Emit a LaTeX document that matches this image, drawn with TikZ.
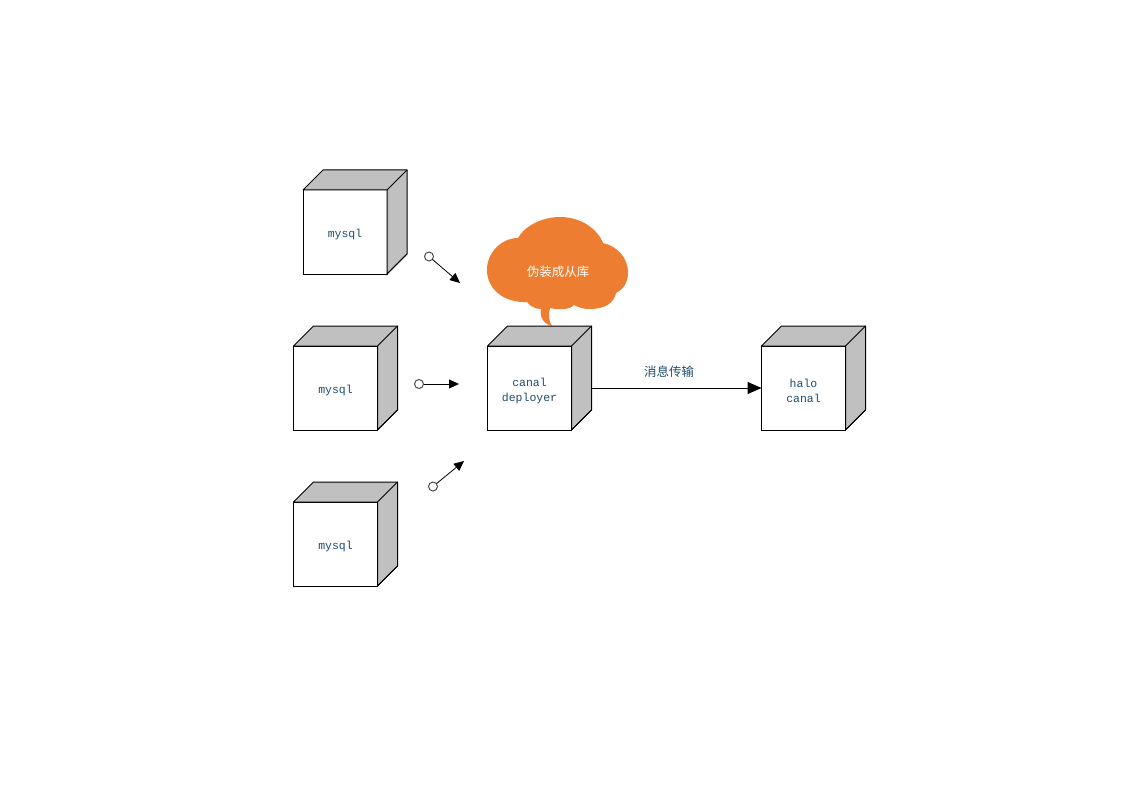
\documentclass[tikz,border=0pt]{standalone}
\usepackage{fontspec}
\setmonofont{Liberation Mono}
\newfontfamily\cjkfont{Noto Sans CJK SC}
\usetikzlibrary{arrows.meta}
\definecolor{labelblue}{HTML}{1F4E6B}
\definecolor{cloudorange}{HTML}{ED7D31}
\definecolor{cubegray}{HTML}{C0C0C0}
\tikzset{
  cubefront/.style={draw, fill=white, minimum size=84pt, inner sep=0pt, outer sep=0pt},
  cubetext/.style={align=center, inner sep=0pt, text=labelblue, font=\ttfamily\fontsize{11.5}{15}\selectfont},
  cubeside/.style={draw, fill=cubegray, line join=round},
  ball/.style={draw=black!70, fill=white, circle, minimum size=9pt, inner sep=0pt, outer sep=0pt},
  syncarrow/.style={-{Triangle[length=10pt,width=9pt]}, line width=0.8pt},
  busarrow/.style={-{Triangle[length=14pt,width=12pt]}, line width=1pt},
  msglabel/.style={text=labelblue, font=\cjkfont\fontsize{12.5}{15}\selectfont, inner sep=0pt},
  cloudlabel/.style={text=white, font=\cjkfont\fontsize{12.5}{15}\selectfont, inner sep=0pt}
}
% name, centre of the front face, text
\newcommand{\cubenode}[3]{
  \node[cubefront] (#1) at (#2) {};
  \draw[cubeside] (#1.north west) -- ++(20,-20) -- ++(84,0) -- ++(0,84)
    -- ++(-20,20) -- (#1.north east) -- cycle;
  \draw (#1.north east) -- ++(20,-20);
  \draw (#1.south east) -- ++(20,-20);
  \node[cubetext] (#1text) at ([yshift=-3pt]#1.center) {#3};
}
\begin{document}
\begin{tikzpicture}[x=1pt, y=-1pt, line width=1pt]
  \useasboundingbox (0,0) rectangle (1123,794);
  % cloud first, the cube sits on its tail
  \fill[cloudorange] (518,238) .. controls (526,224) and (545,217) .. (560,217)
    .. controls (580,217) and (597,228) .. (603,243)
    .. controls (617,246) and (628,258) .. (628,272)
    .. controls (628,282) and (624,289) .. (616,293)
    .. controls (614,303) and (605,309) .. (590,309)
    .. controls (582,309) and (578,307) .. (574,305)
    .. controls (570,310) and (558,310) .. (550,308)
    .. controls (548,315) and (549,322) .. (552,326)
    .. controls (546,325) and (539,319) .. (541,309)
    .. controls (535,309) and (530,306) .. (527,302)
    .. controls (505,303) and (487,290) .. (487,270)
    .. controls (487,252) and (502,238) .. (518,238) -- cycle;
  \node[cloudlabel] (fakeslave) at (558,272) {伪装成从库};

  \cubenode{mysqltop}{345,232}{mysql}
  \cubenode{mysqlmid}{335.5,388}{mysql}
  \cubenode{mysqlbot}{335.5,544}{mysql}
  \cubenode{canal}{529.5,388}{canal\\deployer}
  \cubenode{halo}{803.5,388}{halo\\canal}

  \node[ball] (balltop) at (429,256.5) {};
  \node[ball] (ballmid) at (419,384) {};
  \node[ball] (ballbot) at (433,486.5) {};
  \coordinate (tiptop) at (460,283);
  \coordinate (tipmid) at (459,384);
  \coordinate (tipbot) at (464,461);
  \draw[syncarrow] (balltop) -- (tiptop);
  \draw[syncarrow] (ballmid) -- (tipmid);
  \draw[syncarrow] (ballbot) -- (tipbot);

  \coordinate (canalside) at (591.5,388);
  \draw[busarrow] (canalside) -- (halo.west);
  \node[msglabel] (msg) at (669,372) {消息传输};
\end{tikzpicture}
\end{document}
